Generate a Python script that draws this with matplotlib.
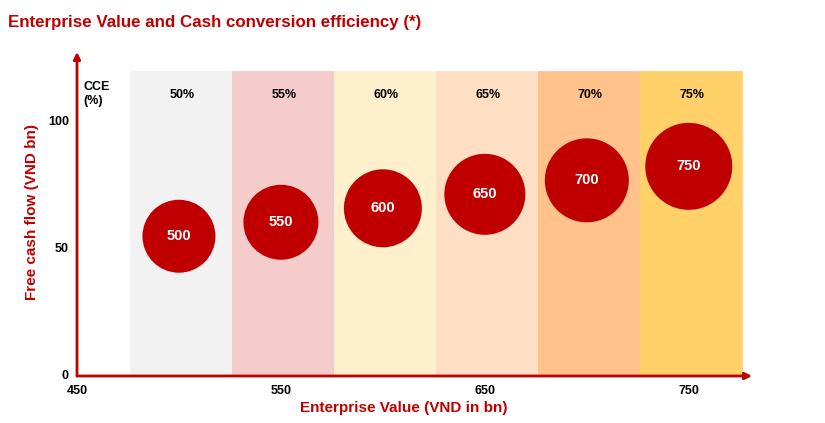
import matplotlib.pyplot as plt

plt.rcParams['font.family'] = ['Liberation Sans', 'DejaVu Sans']

# data
ev = [500, 550, 600, 650, 700, 750]
fcf = [55, 60.5, 66, 71.5, 77, 82.5]
cce_labels = ['50%', '55%', '60%', '65%', '70%', '75%']
bubble_px = [73, 75, 78, 81, 84, 87]  # bubble diameter in pixels
x_ticks = [450, 550, 650, 750]
y_ticks = [0, 50, 100]

red = '#C00000'
band_colors = ['#F2F2F2', '#F4CCCC', '#FEF0CC', '#FEDFC4', '#FFC28B', '#FFD168']

W, H = 825, 423
fig = plt.figure(figsize=(W / 100, H / 100), dpi=100)
ax = fig.add_axes([77 / W, 47 / H, (752 - 77) / W, (376 - 52) / H])
ax.set_xlim(450, 781)
ax.set_ylim(0, 127.5)

# background bands, one per CCE step
for x, c, lab in zip(ev, band_colors, cce_labels):
    ax.axvspan(x - 24, x + 26, ymin=0, ymax=120 / 127.5, facecolor=c,
               edgecolor=c, lw=0.6, zorder=0)
    ax.text(x + 1.5, 110.5, lab, ha='center', va='center', fontsize=9, fontweight='bold')

ax.text(453, 111, 'CCE\n(%)', ha='left', va='center', fontsize=9,
        fontweight='bold', linespacing=1.25)

# bubbles
sizes = [(d * 0.72) ** 2 for d in bubble_px]
ax.scatter(ev, fcf, s=sizes, color=red, edgecolors='none', zorder=3)
for x, y in zip(ev, fcf):
    ax.text(x, y, str(x), ha='center', va='center', color='white',
            fontsize=10.5, fontweight='bold', zorder=4)

# axes drawn as arrows
for s in ax.spines.values():
    s.set_visible(False)
ax.set_xticks([])
ax.set_yticks([])
arrow = dict(arrowstyle='-|>', color=red, lw=2, mutation_scale=10, shrinkA=0, shrinkB=0)
ax.annotate('', xy=(1, 0), xytext=(0, 0), xycoords='axes fraction', arrowprops=arrow)
ax.annotate('', xy=(0, 1), xytext=(0, 0), xycoords='axes fraction', arrowprops=arrow)

for t in x_ticks:
    ax.text(t, -3.5, str(t), ha='center', va='top', fontsize=9, fontweight='bold')
for t in y_ticks:
    ax.text(446, t, str(t), ha='right', va='center', fontsize=9, fontweight='bold')

fig.text(404 / W, 1 - 408 / H, 'Enterprise Value (VND in bn)', ha='center', va='center',
         color=red, fontsize=11, fontweight='bold')
fig.text(32 / W, 1 - 212 / H, 'Free cash flow (VND bn)', ha='center', va='center',
         rotation=90, color=red, fontsize=11, fontweight='bold')
fig.text(8 / W, 1 - 22 / H, 'Enterprise Value and Cash conversion efficiency (*)',
         ha='left', va='center', color=red, fontsize=12.2, fontweight='bold')

fig.savefig('out.png', dpi=100)
